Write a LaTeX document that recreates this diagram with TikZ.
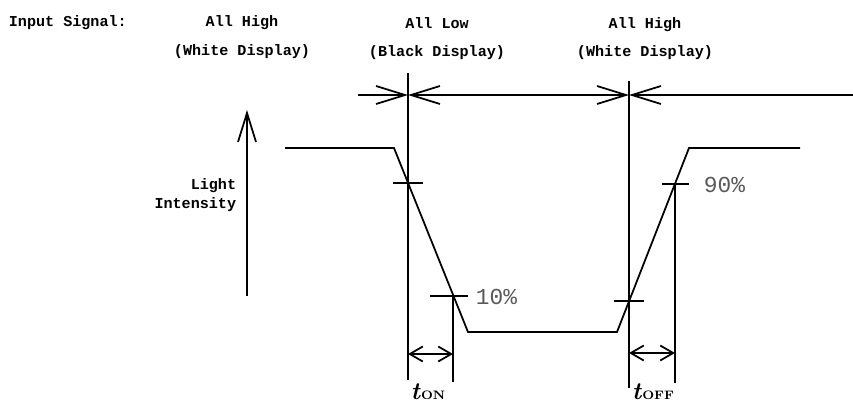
\documentclass[tikz,border=0pt]{standalone}
\usepackage{fontspec}
\setmonofont{Liberation Mono}
\usetikzlibrary{arrows.meta}
\tikzset{
  lbl/.style={font=\ttfamily\bfseries\fontsize{8.6}{10.8}\selectfont, inner sep=0pt},
  pct/.style={font=\ttfamily\fontsize{13}{15}\selectfont, text=black!65, anchor=west, inner sep=0pt},
  tlbl/.style={font=\fontsize{14}{15}\selectfont, inner sep=0pt, anchor=base},
  bigtip/.style={-{Straight Barb[length=0.58cm,width=0.36cm,line width=1pt]}},
  bothtip/.style={{Straight Barb[length=0.58cm,width=0.36cm,line width=1pt]}-{Straight Barb[length=0.58cm,width=0.36cm,line width=1pt]}},
  dimtip/.style={{Straight Barb[length=0.26cm,width=0.3cm,line width=1pt]}-{Straight Barb[length=0.26cm,width=0.3cm,line width=1pt]}}
}
\begin{document}
\begin{tikzpicture}[x=0.02cm, y=-0.02cm, line width=1pt]
    \useasboundingbox (0,0) rectangle (853,403);

    % input signal heading
    \node[lbl, anchor=west] (insig) at (8,23) {Input Signal:};
    \node[lbl] (highA) at (242,23) {All High};
    \node[lbl] (whiteA) at (242,52) {(White Display)};
    \node[lbl] (low) at (437,23) {All Low};
    \node[lbl] (black) at (437,53) {(Black Display)};
    \node[lbl] (highB) at (645,25) {All High};
    \node[lbl] (whiteB) at (645,53) {(White Display)};

    % time axis
    \coordinate (axl) at (358,95);
    \coordinate (axon) at (408,95);
    \coordinate (axoff) at (629,95);
    \coordinate (axr) at (853,95);
    \draw [bigtip] (axl) -- (axon);
    \draw [bothtip] (axon) -- (axoff);
    \draw [bigtip] (axr) -- (axoff);

    \draw (408,73) -- (408,380);
    \draw (629,81) -- (629,388);

    % light intensity
    \draw [bigtip] (247,296) -- (247,110);
    \node[lbl, align=right, anchor=east] (light) at (237,195) {Light\\Intensity};

    % response curve
    \draw
    (285,148) -- (394,148) -- (468,332) -- (617,332) -- (689,148) -- (800,148);

    \draw
    (393,183) -- (423,183)
    (430,296) -- (468,296)
    (614,301) -- (644,301)
    (662,184) -- (689,184);

    \draw (453,296) -- (453,382);
    \draw (675,184) -- (675,383);

    \node[pct] (ten) at (475,297) {10\%};
    \node[pct] (ninety) at (703,185) {90\%};

    % response times
    \coordinate (onA) at (408,354);
    \coordinate (onB) at (453,354);
    \coordinate (offA) at (629,353);
    \coordinate (offB) at (675,353);
    \draw [dimtip] (onA) -- (onB);
    \draw [dimtip] (offA) -- (offB);

    \node[tlbl] (ton) at (428,399) {\textbf{\textit{t}}{\bfseries\fontsize{7}{8}\selectfont ON}};
    \node[tlbl] (toff) at (653,399) {\textbf{\textit{t}}{\bfseries\fontsize{7}{8}\selectfont OFF}};

\end{tikzpicture}
\end{document}
